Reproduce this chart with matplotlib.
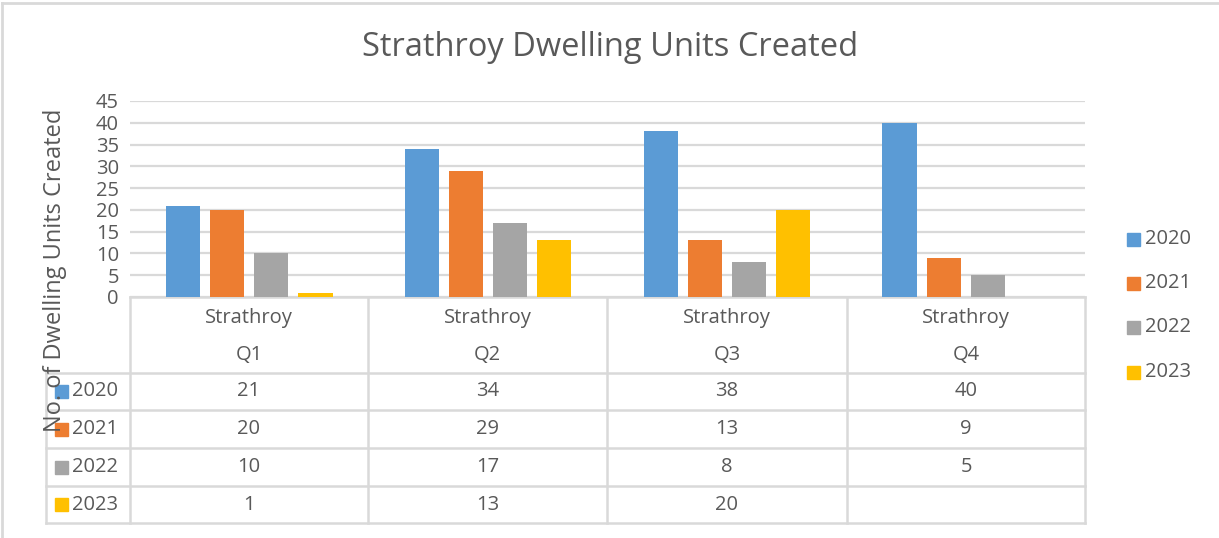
import numpy as np
import matplotlib
matplotlib.use('Agg')
from matplotlib import pyplot as plt
from matplotlib.patches import Rectangle

# data
quarters = ['Q1', 'Q2', 'Q3', 'Q4']
region = 'Strathroy'
years = ['2020', '2021', '2022', '2023']
vals_2020 = [21, 34, 38, 40]
vals_2021 = [20, 29, 13, 9]
vals_2022 = [10, 17, 8, 5]
vals_2023 = [1, 13, 20, None]
colors = ['#5b9bd5', '#ed7d31', '#a5a5a5', '#ffc000']
yticks = [0, 5, 10, 15, 20, 25, 30, 35, 40, 45]

series = [vals_2020, vals_2021, vals_2022, vals_2023]

TXT = '#595959'
GRID = '#d9d9d9'
W, H = 1219, 538
FS = 14.5

plt.rcParams['font.family'] = ['Open Sans', 'DejaVu Sans']

fig = plt.figure(figsize=(W / 100, H / 100), dpi=100)

# full-figure axes in pixel coords for table / legend / frame
bg = fig.add_axes([0, 0, 1, 1])
bg.set_xlim(0, W)
bg.set_ylim(H, 0)
bg.axis('off')

# bar axes
x0, x1, ytop, ybot = 130, 1085, 101, 297
ax = fig.add_axes([x0 / W, (H - ybot) / H, (x1 - x0) / W, (ybot - ytop) / H])
ax.set_xlim(-0.5, len(quarters) - 0.5)
ax.set_ylim(0, 45)
ax.set_yticks(yticks)
ax.set_yticklabels([str(t) for t in yticks], fontsize=FS, color=TXT)
ax.tick_params(axis='y', length=0, pad=8)
ax.set_xticks([])
for s in ax.spines.values():
    s.set_visible(False)
ax.grid(axis='y', color=GRID, linewidth=1.6)
ax.set_axisbelow(True)

x = np.arange(len(quarters))
bw = 0.143
offs = [-0.277, -0.092, 0.092, 0.277]
for i, vals in enumerate(series):
    v = [np.nan if a is None else a for a in vals]
    ax.bar(x + offs[i], v, bw, color=colors[i], zorder=3)

# title and y label
fig.text(610 / W, 1 - 47 / H, 'Strathroy Dwelling Units Created', ha='center', va='center',
         fontsize=23.5, color=TXT)
fig.text(55 / W, 1 - 270 / H, 'No. of Dwelling Units Created', ha='center', va='center',
         rotation=90, fontsize=17, color=TXT)

# data table
cols = [130, 368, 607, 847, 1085]
rows = [373, 410, 448, 486, 523]
lw = 1.8
for cx in cols:
    bg.plot([cx, cx], [297, 523], color=GRID, lw=lw)
bg.plot([130, 1085], [297, 297], color=GRID, lw=lw)
for ry in rows:
    bg.plot([46, 1085], [ry, ry], color=GRID, lw=lw)
bg.plot([46, 46], [373, 523], color=GRID, lw=lw)

for j, q in enumerate(quarters):
    cx = (cols[j] + cols[j + 1]) / 2
    bg.text(cx, 318, region, ha='center', va='center', fontsize=FS, color=TXT)
    bg.text(cx, 355, q, ha='center', va='center', fontsize=FS, color=TXT)
    for i, vals in enumerate(series):
        if vals[j] is not None:
            bg.text(cx, (rows[i] + rows[i + 1]) / 2, str(vals[j]), ha='center', va='center',
                    fontsize=FS, color=TXT)

for i, yr in enumerate(years):
    cy = (rows[i] + rows[i + 1]) / 2
    bg.add_patch(Rectangle((55, cy - 6.5), 13, 13, color=colors[i]))
    bg.text(72, cy, yr, ha='left', va='center', fontsize=FS, color=TXT)

# legend on the right
leg_y = [239, 283, 327, 372]
for i, yr in enumerate(years):
    bg.add_patch(Rectangle((1127, leg_y[i] - 6.5), 13, 13, color=colors[i]))
    bg.text(1145, leg_y[i], yr, ha='left', va='center', fontsize=FS, color=TXT)

# chart frame (top/left visible)
bg.plot([2, W], [3, 3], color='#d9d9d9', lw=2)
bg.plot([2, 2], [3, H], color='#d9d9d9', lw=2)

fig.savefig('out.png', dpi=100)
